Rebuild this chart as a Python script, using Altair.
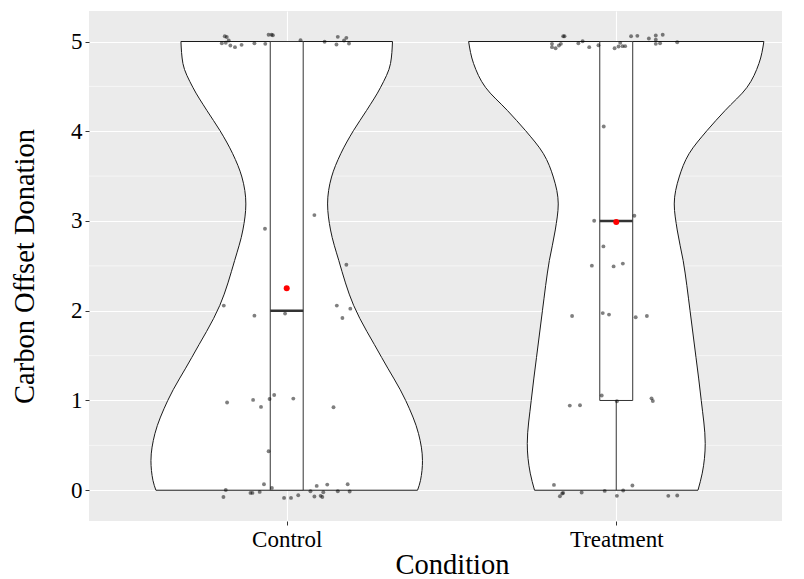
import altair as alt
import pandas as pd

# ---------------- data ----------------
conditions = ["Control", "Treatment"]
positions = [1, 2]

# violin outline: value (y) and half-width (in category units)
violin_y_control = [0, 0.11, 0.33, 0.63, 1.0, 1.48, 2.06, 2.56, 2.90, 3.19, 3.49, 3.75, 4.01, 4.23, 4.49, 4.755, 5.0]
violin_hw_control = [0.397, 0.406, 0.412, 0.400, 0.361, 0.288, 0.203, 0.158, 0.133, 0.124, 0.136, 0.164, 0.203, 0.242, 0.285, 0.315, 0.321]
violin_y_treat = [0, 0.19, 0.52, 1.0, 1.48, 2.0, 2.56, 2.90, 3.19, 3.49, 3.75, 4.01, 4.23, 4.49, 4.755, 5.0]
violin_hw_treat = [0.248, 0.261, 0.270, 0.258, 0.242, 0.224, 0.203, 0.185, 0.176, 0.191, 0.221, 0.276, 0.330, 0.397, 0.433, 0.448]

# jittered observations (x in category units, y = donation)
control_x = [0.812, 0.818, 0.824, 0.803, 0.815, 0.829, 0.843, 0.863, 0.902, 0.935, 0.945, 0.954, 0.958, 1.042,
             1.115, 1.155, 1.151, 1.174, 1.181, 1.189,
             1.084, 0.934, 1.181, 0.809, 0.902, 0.995, 1.152, 1.193, 1.169,
             0.819, 0.898, 0.922, 0.948, 0.962, 1.020, 1.142, 0.945,
             0.931, 0.955, 0.815, 0.808, 0.890, 0.896, 0.918, 0.992, 1.013, 1.035, 1.072, 1.091, 1.084,
             1.103, 1.108, 1.111, 1.123, 1.155, 1.185, 1.191]
control_y = [5.059, 5.050, 5.011, 4.981, 4.986, 4.955, 4.937, 4.963, 4.981, 4.974, 5.075, 5.075, 5.070, 5.015,
             4.997, 5.052, 4.967, 5.011, 5.041, 4.978,
             3.066, 2.914, 2.513, 2.057, 1.945, 1.968, 2.057, 2.023, 1.919,
             0.977, 1.006, 0.928, 1.017, 1.061, 1.021, 0.924, 0.434,
             0.067, 0.026, 0.003, -0.075, -0.030, -0.030, -0.019, -0.086, -0.086, -0.056, -0.011, 0.048, -0.070,
             -0.063, -0.075, -0.022, 0.063, -0.011, 0.067, -0.014]

treat_x = [1.839, 1.843, 1.805, 1.805, 1.816, 1.826, 1.832, 1.885, 1.898, 1.918, 1.946, 1.995, 2.007, 2.012,
           2.019, 2.027, 2.045, 2.064, 2.099, 2.120, 2.120, 2.120, 2.133, 2.141, 2.185,
           1.962,
           2.055, 1.933, 1.961, 1.926, 1.992, 2.020, 1.866, 1.959, 1.978, 2.059, 2.093,
           1.956, 1.859, 1.890, 2.107, 2.111, 2.002,
           1.811, 1.839, 1.836, 1.829, 1.895, 1.965, 2.002, 2.021, 2.049, 2.158, 2.185]
treat_y = [5.059, 5.059, 4.974, 4.937, 4.925, 4.955, 4.974, 4.981, 5.003, 4.937, 4.959, 4.925, 4.944, 4.985,
           4.948, 4.948, 5.059, 5.063, 5.033, 5.067, 5.019, 4.974, 4.981, 5.075, 4.992,
           4.053,
           3.059, 3.003, 2.717, 2.502, 2.494, 2.525, 1.941, 1.974, 1.957, 1.927, 1.941,
           1.055, 0.943, 0.947, 1.024, 0.994, 0.991,
           0.059, -0.030, -0.037, -0.067, -0.026, -0.008, -0.063, -0.003, 0.052, -0.063, -0.059]

# boxplot statistics and means
box_q1 = [0, 1]
box_median = [2, 3]
box_q3 = [5, 5]
whisker_low = [0, 0]
whisker_high = [5, 5]
group_mean = [2.25, 2.99]

y_ticks = [0, 1, 2, 3, 4, 5]
minor_ticks = [0.5, 1.5, 2.5, 3.5, 4.5]

# ---------------- tables ----------------
def violin_table(cond, pos, vys, vhs):
    return pd.DataFrame({
        "cond": [cond] * len(vys),
        "y": vys,
        "lo": [pos - h for h in vhs],
        "hi": [pos + h for h in vhs],
    })


violin_c = violin_table("Control", 1, violin_y_control, violin_hw_control)
violin_t = violin_table("Treatment", 2, violin_y_treat, violin_hw_treat)

points_df = pd.DataFrame({
    "cond": ["Control"] * len(control_x) + ["Treatment"] * len(treat_x),
    "x": control_x + treat_x,
    "y": control_y + treat_y,
})

box_df = pd.DataFrame({
    "cond": conditions, "pos": positions, "q1": box_q1, "med": box_median,
    "q3": box_q3, "wlo": whisker_low, "whi": whisker_high, "mean": group_mean,
})
minor_df = pd.DataFrame({"v": minor_ticks})

# ---------------- encodings ----------------
FONT = "Liberation Serif"
xscale = alt.Scale(domain=[0.4, 2.503], nice=False, zero=False)
yscale = alt.Scale(domain=[-0.343, 5.34], nice=False, zero=False)
xaxis = alt.Axis(values=positions, labelExpr="datum.value == 1 ? 'Control' : 'Treatment'",
                 grid=True, gridColor="white", gridWidth=1.1, titlePadding=-1, labelPadding=3,
                 titleX=363, titleAlign="center")
yaxis = alt.Axis(values=y_ticks, grid=True, gridColor="white", gridWidth=1.1, titlePadding=31,
                 labelPadding=3)


def X(field):
    return alt.X(field, type="quantitative", scale=xscale, axis=xaxis, title="Condition")


def Y(field):
    return alt.Y(field, type="quantitative", scale=yscale, axis=yaxis, title="Carbon Offset Donation")


minor = alt.Chart(minor_df).mark_rule(color="white", strokeWidth=0.55).encode(y=Y("v"))


def violin_layer(df):
    return alt.Chart(df).mark_area(
        orient="horizontal", fill="white", stroke="#1a1a1a", strokeWidth=1, interpolate="monotone"
    ).encode(y=Y("y"), x=X("lo"), x2="hi")


whisk_lo = alt.Chart(box_df).mark_rule(color="#333333", strokeWidth=1).encode(x=X("pos"), y=Y("wlo"), y2="q1")
whisk_hi = alt.Chart(box_df).mark_rule(color="#333333", strokeWidth=1).encode(x=X("pos"), y=Y("q3"), y2="whi")

box_base = alt.Chart(box_df).transform_calculate(bl="datum.pos - 0.05", br="datum.pos + 0.05")
box = box_base.mark_rect(fill="white", stroke="#333333", strokeWidth=1).encode(
    x=X("bl"), x2="br", y=Y("q1"), y2="q3")
median = box_base.mark_rule(color="#333333", strokeWidth=2.3).encode(x=X("bl"), x2="br", y=Y("med"))

points = alt.Chart(points_df).mark_circle(size=15, color="black", opacity=0.5).encode(x=X("x"), y=Y("y"))
means = alt.Chart(box_df).mark_circle(size=36, color="red", opacity=1).encode(x=X("pos"), y=Y("mean"))

chart = alt.layer(minor, violin_layer(violin_c), violin_layer(violin_t), whisk_lo, whisk_hi, box, median,
                  points, means).properties(
    width=693, height=510,
    autosize=alt.AutoSizeParams(type="none"),
    padding={"left": 81, "top": 3, "right": 10, "bottom": 60},
).configure_view(fill="#EBEBEB", stroke=None).configure_axis(
    labelFont=FONT, labelFontSize=23, labelColor="black",
    titleFont=FONT, titleFontSize=28.5, titleFontWeight="normal", titleColor="black",
    tickColor="#333333", tickSize=4, tickWidth=1, domain=False,
)

chart.save("out.html", embed_options={"renderer": "svg", "actions": False})
